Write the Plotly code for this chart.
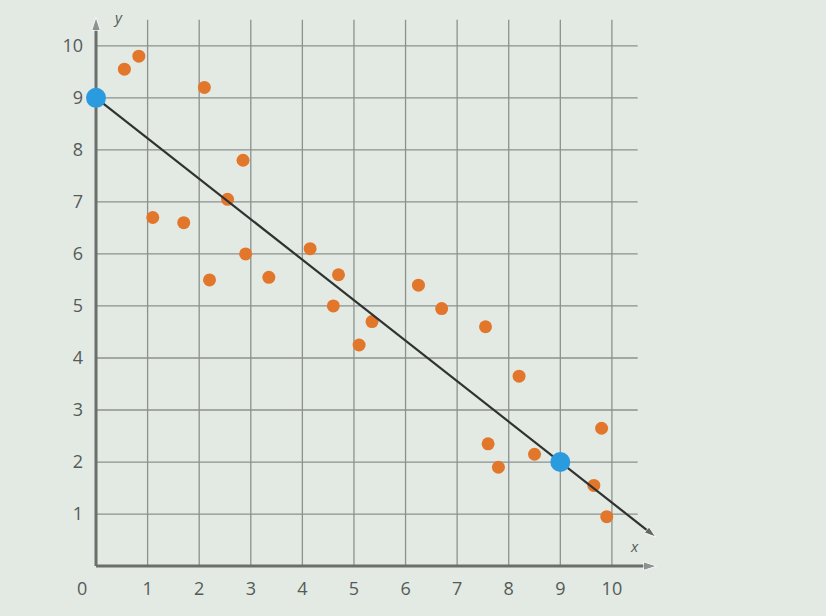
"""Scatter plot with a line of fit, drawn on a hand-style grid."""

import plotly.graph_objects as go

# data
pts_x = [0.55, 0.83, 2.1, 2.85, 2.55, 1.1, 1.7, 2.9, 2.2, 3.35, 4.15, 4.7, 4.6,
         5.35, 5.1, 6.25, 6.7, 7.55, 8.2, 7.6, 7.8, 8.5, 9.8, 9.65, 9.9]
pts_y = [9.55, 9.8, 9.2, 7.8, 7.05, 6.7, 6.6, 6.0, 5.5, 5.55, 6.1, 5.6, 5.0,
         4.7, 4.25, 5.4, 4.95, 4.6, 3.65, 2.35, 1.9, 2.15, 2.65, 1.55, 0.95]

fit_pts_x = [0, 9]
fit_pts_y = [9, 2]
fit_line_x = [0, 10.85]
fit_line_y = [9, 0.56]

tick_vals = [1, 2, 3, 4, 5, 6, 7, 8, 9, 10]
tick_text = ["1", "2", "3", "4", "5", "6", "7", "8", "9", "10"]

grid_end = 10.5
axis_x_end = 10.87
axis_y_end = 10.55

BG = "#e3eae4"
GRID = "#8c918e"
AXIS = "#6b6e6d"
TEXT = "#555a58"
ORANGE = "#e2772c"
BLUE = "#2b9be0"

fig = go.Figure()

# grid
for v in tick_vals:
    fig.add_shape(type="line", x0=v, x1=v, y0=0, y1=grid_end,
                  line=dict(color=GRID, width=1.3), layer="below")
    fig.add_shape(type="line", x0=0, x1=grid_end, y0=v, y1=v,
                  line=dict(color=GRID, width=1.3), layer="below")

# axes with arrow heads
fig.add_trace(go.Scatter(
    x=[0, axis_x_end], y=[0, 0], mode="lines+markers",
    line=dict(color=AXIS, width=3),
    marker=dict(symbol="arrow", angleref="previous", size=[0, 14], color=AXIS),
    hoverinfo="skip", showlegend=False,
))
fig.add_trace(go.Scatter(
    x=[0, 0], y=[0, axis_y_end], mode="lines+markers",
    line=dict(color=AXIS, width=3),
    marker=dict(symbol="arrow", angleref="previous", size=[0, 14], color=AXIS),
    hoverinfo="skip", showlegend=False,
))

# scatter points
fig.add_trace(go.Scatter(
    x=pts_x, y=pts_y, mode="markers",
    marker=dict(color=ORANGE, size=13),
    showlegend=False,
))

# line of fit
fig.add_trace(go.Scatter(
    x=fit_line_x, y=fit_line_y, mode="lines+markers",
    line=dict(color="#2e3230", width=2.2),
    marker=dict(symbol="arrow", angleref="previous", size=[0, 12], color="#2e3230"),
    hoverinfo="skip", showlegend=False,
))
fig.add_trace(go.Scatter(
    x=fit_pts_x, y=fit_pts_y, mode="markers",
    marker=dict(color=BLUE, size=20),
    showlegend=False,
))

# axis names and origin label
fig.add_annotation(x=0.43, y=axis_y_end, text="<i>y</i>", showarrow=False,
                   font=dict(size=15, color=TEXT))
fig.add_annotation(x=10.43, y=0.38, text="<i>x</i>", showarrow=False,
                   font=dict(size=15, color=TEXT))
fig.add_annotation(x=0, y=0, text="0", showarrow=False, xshift=-14, yshift=-22,
                   font=dict(size=18, color=TEXT))

fig.update_layout(
    width=826, height=616,
    margin=dict(l=84, r=0, t=0, b=40),
    paper_bgcolor=BG,
    plot_bgcolor=BG,
    font=dict(family="Open Sans, Roboto, sans-serif", size=18, color=TEXT),
    xaxis=dict(range=[-0.233, 14.15], tickvals=tick_vals, ticktext=tick_text,
               showgrid=False, zeroline=False, showline=False, ticks=""),
    yaxis=dict(range=[-0.19, 10.88], tickvals=tick_vals, ticktext=tick_text,
               showgrid=False, zeroline=False, showline=False, ticks=""),
)

# drop the default page margin so the figure fills the window
fig.write_html(
    "out.html",
    config={"displayModeBar": False},
    post_script=f"document.body.style.margin='0';"
                f"document.body.style.background='{BG}';",
)
